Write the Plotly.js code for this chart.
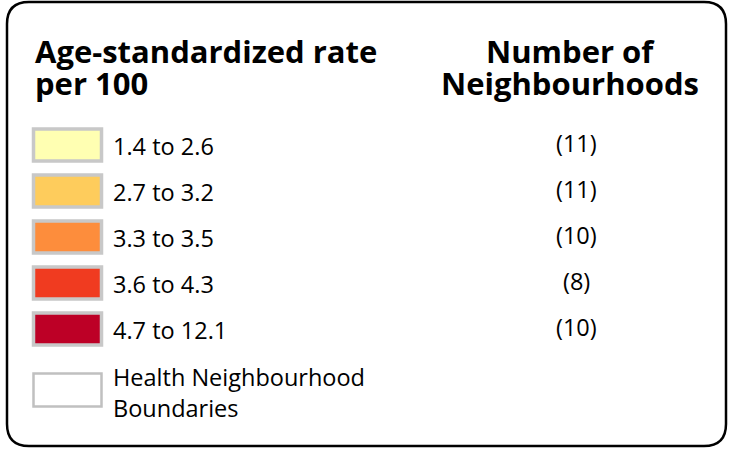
<!DOCTYPE html>
<html>
<head>
<meta charset="utf-8">
<script src="https://cdn.plot.ly/plotly-3.0.1.min.js"></script>
<style>html,body{margin:0;padding:0;background:#fff;}#chart{width:729px;height:449px;}</style>
</head>
<body>
<div id="chart"></div>
<script>
// ---- data ----
var leftTitle = ["Age-standardized rate", "per 100"];
var rightTitle = ["Number of", "Neighbourhoods"];
var classLabels = ["1.4 to 2.6", "2.7 to 3.2", "3.3 to 3.5", "3.6 to 4.3", "4.7 to 12.1"];
var classColors = ["#ffffb2", "#fecc5c", "#fd8d3c", "#f03b20", "#bd0026"];
var neighbourhoodCounts = [11, 11, 10, 8, 10];
var boundaryLabel = ["Health Neighbourhood", "Boundaries"];

// ---- layout ----
var FONT = "Open Sans, sans-serif";
var W = 729, H = 449;
var TITLE_SIZE = 31, LABEL_SIZE = 23.5;
var shapes = [], annotations = [];

// rounded border
var x0 = 7, x1 = 726, y0 = 2, y1 = 446, r = 22;
shapes.push({
  type: "path", xref: "x", yref: "y",
  path: "M " + (x0 + r) + " " + y0 + " L " + (x1 - r) + " " + y0 +
        " Q " + x1 + " " + y0 + " " + x1 + " " + (y0 + r) +
        " L " + x1 + " " + (y1 - r) +
        " Q " + x1 + " " + y1 + " " + (x1 - r) + " " + y1 +
        " L " + (x0 + r) + " " + y1 +
        " Q " + x0 + " " + y1 + " " + x0 + " " + (y1 - r) +
        " L " + x0 + " " + (y0 + r) +
        " Q " + x0 + " " + y0 + " " + (x0 + r) + " " + y0 + " Z",
  line: {color: "#000", width: 2.5}, fillcolor: "rgba(0,0,0,0)"
});

// titles
var titleY = [51, 83];
leftTitle.forEach(function (t, i) {
  annotations.push({x: 33, y: titleY[i], xref: "x", yref: "y", text: "<b>" + t + "</b>",
    showarrow: false, xanchor: "left", yanchor: "middle",
    font: {family: FONT, size: TITLE_SIZE, color: "#000"}});
});
rightTitle.forEach(function (t, i) {
  annotations.push({x: 570, y: titleY[i], xref: "x", yref: "y", text: "<b>" + t + "</b>",
    showarrow: false, xanchor: "center", yanchor: "middle",
    font: {family: FONT, size: TITLE_SIZE, color: "#000"}});
});

// class rows
var rowY0 = 145, rowStep = 46;
var sx0 = 33.5, sx1 = 101.5, sh = 32;
classLabels.forEach(function (lab, i) {
  var cy = rowY0 + i * rowStep;
  shapes.push({type: "rect", xref: "x", yref: "y", x0: sx0, x1: sx1, y0: cy - sh / 2, y1: cy + sh / 2,
    fillcolor: classColors[i], line: {color: "#c8c8c8", width: 3.5}});
  annotations.push({x: 111, y: cy + 1, xref: "x", yref: "y", text: lab, showarrow: false,
    xanchor: "left", yanchor: "middle", font: {family: FONT, size: LABEL_SIZE, color: "#000"}});
  annotations.push({x: 576, y: cy - 2, xref: "x", yref: "y", text: "(" + neighbourhoodCounts[i] + ")",
    showarrow: false, xanchor: "center", yanchor: "middle", font: {family: FONT, size: LABEL_SIZE, color: "#000"}});
});

// boundary row
var by = 390;
shapes.push({type: "rect", xref: "x", yref: "y", x0: sx0, x1: sx1, y0: by - 16.5, y1: by + 16.5,
  fillcolor: "#fff", line: {color: "#c0c0c0", width: 2.5}});
boundaryLabel.forEach(function (t, i) {
  annotations.push({x: 111, y: 377 + i * 31, xref: "x", yref: "y", text: t, showarrow: false,
    xanchor: "left", yanchor: "middle", font: {family: FONT, size: LABEL_SIZE, color: "#000"}});
});

var layout = {
  width: W, height: H,
  margin: {l: 0, r: 0, t: 0, b: 0, pad: 0},
  paper_bgcolor: "#fff", plot_bgcolor: "#fff",
  xaxis: {range: [0, W], visible: false, fixedrange: true},
  yaxis: {range: [H, 0], visible: false, fixedrange: true},
  showlegend: false,
  shapes: shapes, annotations: annotations
};
Plotly.newPlot("chart", [{x: [], y: [], type: "scatter", mode: "markers", hoverinfo: "skip"}], layout,
  {displayModeBar: false, staticPlot: true});
</script>
</body>
</html>
